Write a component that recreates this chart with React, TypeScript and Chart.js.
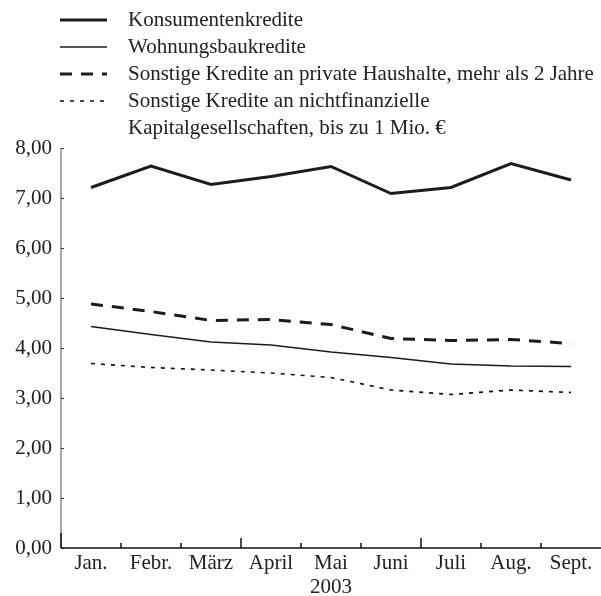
import React, { useEffect, useRef } from 'react';
import { Chart, registerables } from 'chart.js';

Chart.register(...registerables);

const months = ['Jan.', 'Febr.', 'März', 'April', 'Mai', 'Juni', 'Juli', 'Aug.', 'Sept.'];
const konsumentenkredite = [7.21, 7.64, 7.27, 7.43, 7.63, 7.09, 7.21, 7.69, 7.36];
const wohnungsbaukredite = [4.43, 4.27, 4.12, 4.06, 3.92, 3.81, 3.68, 3.64, 3.63];
const sonstigeHaushalte = [4.88, 4.73, 4.55, 4.57, 4.47, 4.19, 4.15, 4.17, 4.09];
const sonstigeKapital = [3.69, 3.61, 3.56, 3.5, 3.41, 3.16, 3.07, 3.16, 3.11];
const yTicks = [0, 1, 2, 3, 4, 5, 6, 7, 8];
const legendLabels = [
  ['Konsumentenkredite'],
  ['Wohnungsbaukredite'],
  ['Sonstige Kredite an private Haushalte, mehr als 2 Jahre'],
  ['Sonstige Kredite an nichtfinanzielle', 'Kapitalgesellschaften, bis zu 1 Mio. €'],
];
const yearLabel = '2003';

const FONT_FAMILY = "'Liberation Serif', 'Times New Roman', Times, serif";
const FONT_SIZE = 21;
const TEXT_COLOR = '#222222';
const LINE_COLOR = '#1c1c1c';

const fmt = (v: number) => v.toFixed(2).replace('.', ',');

const legendPlugin = {
  id: 'customLegend',
  afterDraw(chart: any) {
    const ctx = chart.ctx;
    ctx.save();
    ctx.font = `${FONT_SIZE}px ${FONT_FAMILY}`;
    ctx.textBaseline = 'middle';
    ctx.textAlign = 'left';
    ctx.fillStyle = TEXT_COLOR;
    let row = 0;
    chart.data.datasets.forEach((ds: any, i: number) => {
      const y = 20 + row * 27;
      ctx.save();
      ctx.strokeStyle = ds.borderColor;
      ctx.lineWidth = ds.borderWidth;
      ctx.setLineDash(ds.borderDash || []);
      ctx.beginPath();
      ctx.moveTo(60, y);
      ctx.lineTo(107, y);
      ctx.stroke();
      ctx.restore();
      const lines = legendLabels[i];
      lines.forEach((t: string, k: number) => {
        ctx.fillText(t, 128, y + k * 27);
      });
      row += lines.length;
    });
    ctx.restore();
  },
};

const axesPlugin = {
  id: 'customAxes',
  afterDraw(chart: any) {
    const ctx = chart.ctx;
    const { left, right, top, bottom } = chart.chartArea;
    const xs = chart.scales.x;
    const ys = chart.scales.y;
    ctx.save();
    // y axis (gray)
    ctx.strokeStyle = '#8a8a8a';
    ctx.lineWidth = 1.5;
    ctx.beginPath();
    ctx.moveTo(left, top);
    ctx.lineTo(left, bottom);
    ctx.stroke();
    // y ticks
    ctx.strokeStyle = '#333';
    ctx.lineWidth = 1;
    yTicks.forEach((v) => {
      const py = Math.round(ys.getPixelForValue(v)) + 0.5;
      ctx.beginPath();
      ctx.moveTo(left, py);
      ctx.lineTo(left + 3, py);
      ctx.stroke();
    });
    // x axis
    ctx.strokeStyle = '#111';
    ctx.lineWidth = 1.5;
    ctx.beginPath();
    ctx.moveTo(left, bottom);
    ctx.lineTo(right, bottom);
    ctx.stroke();
    // x boundary ticks
    const half = (xs.getPixelForValue(1) - xs.getPixelForValue(0)) / 2;
    ctx.lineWidth = 1.5;
    for (let i = 0; i < months.length; i++) {
      const px = xs.getPixelForValue(i) - half;
      const h = i === 0 ? 15 : i % 3 === 0 ? 10 : 5;
      ctx.beginPath();
      ctx.moveTo(px, bottom);
      ctx.lineTo(px, bottom - h);
      ctx.stroke();
    }
    ctx.restore();
  },
};

export default function App() {
  const canvasRef = useRef<HTMLCanvasElement | null>(null);

  useEffect(() => {
    if (!canvasRef.current) return;
    const font = { family: FONT_FAMILY, size: FONT_SIZE };
    const chart = new Chart(canvasRef.current, {
      type: 'line',
      data: {
        labels: months,
        datasets: [
          {
            label: legendLabels[0].join(' '),
            data: konsumentenkredite,
            borderColor: LINE_COLOR,
            borderWidth: 3,
            borderDash: [],
            pointRadius: 0,
            tension: 0,
          },
          {
            label: legendLabels[1].join(' '),
            data: wohnungsbaukredite,
            borderColor: LINE_COLOR,
            borderWidth: 1.4,
            borderDash: [],
            pointRadius: 0,
            tension: 0,
          },
          {
            label: legendLabels[2].join(' '),
            data: sonstigeHaushalte,
            borderColor: LINE_COLOR,
            borderWidth: 3,
            borderDash: [12, 9],
            pointRadius: 0,
            tension: 0,
          },
          {
            label: legendLabels[3].join(' '),
            data: sonstigeKapital,
            borderColor: '#111111',
            borderWidth: 1.6,
            borderDash: [4, 6],
            pointRadius: 0,
            tension: 0,
          },
        ],
      } as any,
      options: {
        responsive: false,
        animation: false,
        devicePixelRatio: 1,
        layout: { padding: { top: 148, left: 0, right: 0, bottom: 0 } },
        plugins: {
          legend: { display: false },
          tooltip: { enabled: false },
        },
        scales: {
          x: {
            type: 'category',
            offset: true,
            grid: { display: false, drawTicks: false },
            border: { display: false },
            ticks: {
              font,
              color: TEXT_COLOR,
              padding: 3,
              maxRotation: 0,
              autoSkip: false,
            },
            title: {
              display: true,
              text: yearLabel,
              font,
              color: TEXT_COLOR,
              padding: { top: 0, bottom: -4 },
            },
            afterFit: (s: any) => {
              s.height = 48;
            },
          },
          y: {
            min: 0,
            max: 8,
            afterBuildTicks: (s: any) => {
              s.ticks = yTicks.map((v) => ({ value: v }));
            },
            grid: { display: false, drawTicks: false },
            border: { display: false },
            ticks: {
              font,
              color: TEXT_COLOR,
              padding: 9,
              callback: (v: any) => fmt(Number(v)),
            },
            afterFit: (s: any) => {
              s.width = 61;
            },
          },
        },
      } as any,
      plugins: [legendPlugin, axesPlugin],
    });
    return () => chart.destroy();
  }, []);

  return (
    <div style={{ position: 'absolute', left: 0, top: 0, width: 601, height: 596, background: '#fff' }}>
      <canvas ref={canvasRef} width={601} height={596} />
    </div>
  );
}
